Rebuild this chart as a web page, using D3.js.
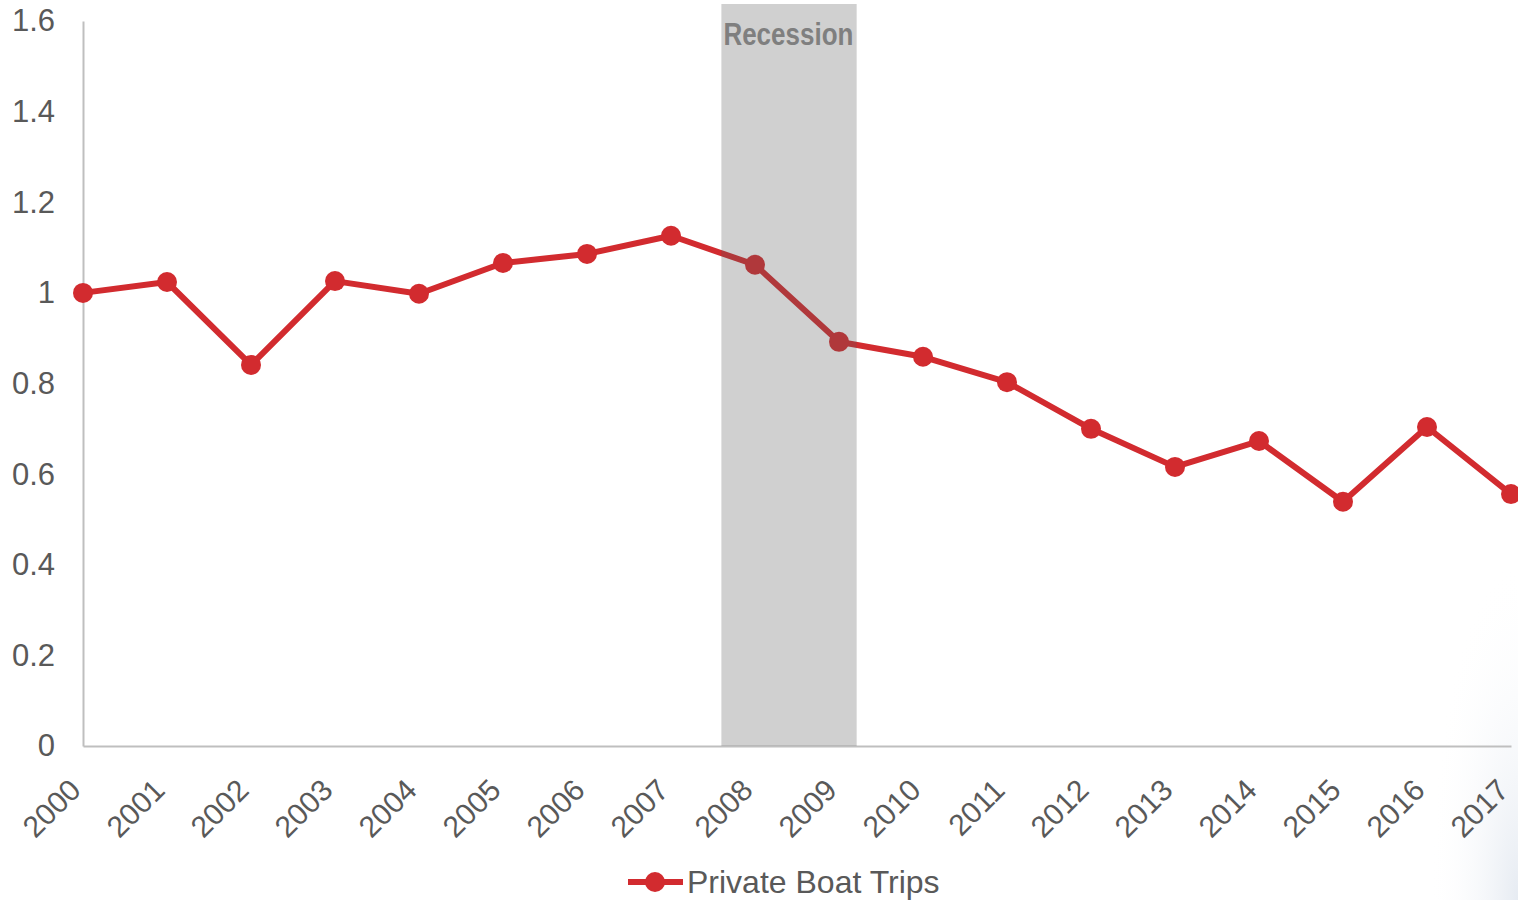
<!DOCTYPE html>
<html><head><meta charset="utf-8">
<script src="https://cdn.jsdelivr.net/npm/d3@7"></script>
<style>body{margin:0;background:#fff;}svg{display:block;}</style>
</head><body>
<script>
const years = ["2000","2001","2002","2003","2004","2005","2006","2007","2008","2009","2010","2011","2012","2013","2014","2015","2016","2017"];
const values = [1.000,1.024,0.841,1.026,0.998,1.066,1.086,1.126,1.062,0.892,0.859,0.803,0.700,0.616,0.673,0.539,0.704,0.556];
const yTicks = [0,0.2,0.4,0.6,0.8,1,1.2,1.4,1.6];
const recession = [7.6, 9.21]; // in year-index units
const seriesName = "Private Boat Trips";
const recessionLabel = "Recession";

const W = 1518, H = 900;
const svg = d3.select("body").append("svg").attr("width", W).attr("height", H);
const defs = svg.append("defs");
const rg = defs.append("radialGradient").attr("id","corner").attr("cx","100%").attr("cy","100%").attr("r","100%");
rg.append("stop").attr("offset","0%").attr("stop-color","#e6ebf2");
rg.append("stop").attr("offset","100%").attr("stop-color","#ffffff").attr("stop-opacity",0);
svg.append("rect").attr("x",1430).attr("y",560).attr("width",88).attr("height",340).attr("fill","url(#corner)");

const x = d3.scalePoint().domain(years).range([83, 1511]);
const xi = d3.scaleLinear().domain([0, years.length-1]).range([83, 1511]);
const y = d3.scaleLinear().domain([0, 1.6]).range([746, 21]);
const FONT = "'Liberation Sans', Arial, sans-serif";

// y axis
const yAxis = svg.append("g").attr("transform","translate(83,0)")
  .call(d3.axisLeft(y).tickValues(yTicks).tickSize(0).tickPadding(28).tickFormat(d3.format("~g")));
yAxis.select(".domain").attr("stroke","#bfbfbf").attr("stroke-width",2);
yAxis.selectAll("text").attr("font-family",FONT).attr("font-size",31).attr("fill","#595959");

// x axis
const xAxis = svg.append("g").attr("transform","translate(0,746)")
  .call(d3.axisBottom(x).tickSize(0).tickPadding(0));
xAxis.select(".domain").attr("stroke","#bfbfbf").attr("stroke-width",2);
xAxis.selectAll("text")
  .attr("font-family",FONT).attr("font-size",30).attr("fill","#595959")
  .attr("text-anchor","end").attr("dy",0)
  .attr("transform","translate(-1,46) rotate(-45)");

// line
const line = d3.line().x((d,i)=>x(years[i])).y(d=>y(d));
svg.append("path").datum(values).attr("d",line).attr("fill","none")
  .attr("stroke","#d22b2f").attr("stroke-width",6).attr("stroke-linejoin","round");
svg.selectAll("circle.pt").data(values).join("circle").attr("class","pt")
  .attr("cx",(d,i)=>x(years[i])).attr("cy",d=>y(d)).attr("r",10).attr("fill","#d22b2f");

// recession band
svg.append("rect").attr("x",xi(recession[0])).attr("y",4)
  .attr("width",xi(recession[1])-xi(recession[0])).attr("height",y(0)-4)
  .attr("fill","rgb(90,90,90)").attr("fill-opacity",0.285);
svg.append("text").attr("x",xi(recession[0])+2).attr("y",45)
  .attr("font-family","'Liberation Sans Narrow', 'Arial Narrow', 'Liberation Sans', sans-serif")
  .attr("font-weight","bold").attr("font-size",31).attr("fill","#7f7f7f")
  .attr("textLength",130).attr("lengthAdjust","spacingAndGlyphs").text(recessionLabel);

// legend
const lg = svg.append("g");
lg.append("line").attr("x1",628).attr("x2",683).attr("y1",882).attr("y2",882).attr("stroke","#d22b2f").attr("stroke-width",6);
lg.append("circle").attr("cx",655).attr("cy",882).attr("r",10).attr("fill","#d22b2f");
lg.append("text").attr("x",687).attr("y",893).attr("font-family",FONT)
  .attr("font-size",32).attr("fill","#595959").text(seriesName);
</script>
</body></html>
